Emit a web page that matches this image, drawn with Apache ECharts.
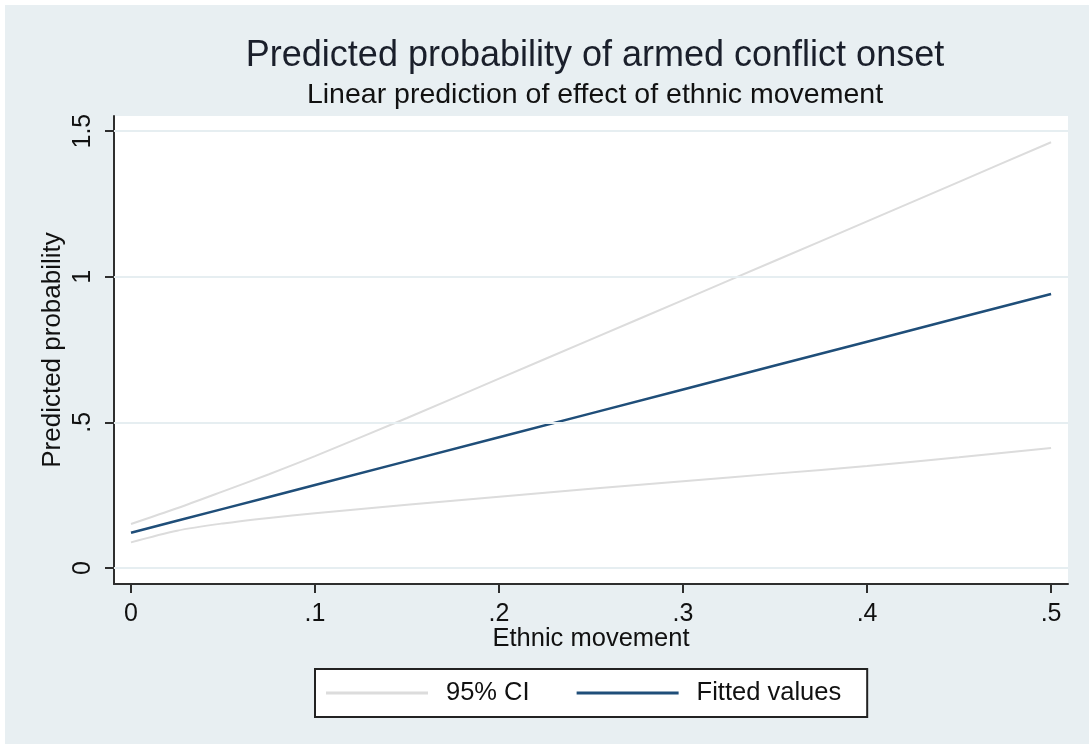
<!DOCTYPE html>
<html>
<head>
<meta charset="utf-8">
<script src="https://cdn.jsdelivr.net/npm/echarts@6/dist/echarts.min.js"></script>
<style>
  html, body { margin: 0; padding: 0; background: #ffffff; }
  #bg { position: absolute; left: 5px; top: 5px; width: 1084px; height: 739px; background: #e8eff2; }
  #chart { position: absolute; left: 0; top: 0; width: 1089px; height: 744px; }
</style>
</head>
<body>
<div id="bg"></div>
<div id="chart"></div>
<script>
// values
const xValues = [0, 0.025, 0.05, 0.075, 0.1, 0.15, 0.2, 0.25, 0.3, 0.35, 0.4, 0.45, 0.5];
const ciUpper = [0.151, 0.205, 0.263, 0.322, 0.384, 0.515, 0.650, 0.785, 0.920, 1.055, 1.190, 1.326, 1.462];
const ciLower = [0.088, 0.128, 0.153, 0.172, 0.188, 0.217, 0.245, 0.272, 0.298, 0.324, 0.350, 0.380, 0.412];
const fitted = [0.121, 0.162, 0.203, 0.244, 0.285, 0.367, 0.449, 0.531, 0.613, 0.695, 0.777, 0.859, 0.941];
const xTicks = [0, 0.1, 0.2, 0.3, 0.4, 0.5];
const yTicks = [0, 0.5, 1, 1.5];

const FONT = 'Liberation Sans, Arial, sans-serif';
const CI_COLOR = '#dcdcdc';
const FIT_COLOR = '#1f4e79';
const AXIS_COLOR = '#2e2e2e';

function pairs(ys) {
  return xValues.map((x, i) => [x, ys[i]]);
}

function tickText(v) {
  return String(v).replace(/^0\./, '.');
}

const chart = echarts.init(document.getElementById('chart'));
chart.setOption({
  animation: false,
  textStyle: { fontFamily: FONT },
  title: {
    text: 'Predicted probability of armed conflict onset',
    subtext: 'Linear prediction of effect of ethnic movement',
    left: 590,
    top: 33,
    textAlign: 'center',
    itemGap: 7,
    textStyle: { fontFamily: FONT, fontSize: 36, fontWeight: 'normal', color: '#1a1f2b' },
    subtextStyle: { fontFamily: FONT, fontSize: 28.5, color: '#111111' }
  },
  grid: {
    left: 114,
    right: 21,
    top: 116,
    bottom: 160,
    show: true,
    backgroundColor: '#ffffff',
    borderWidth: 0
  },
  legend: {
    bottom: 27,
    left: 315,
    data: ['95% CI', 'Fitted values'],
    icon: 'rect',
    itemWidth: 102,
    itemHeight: 3,
    itemGap: 47,
    padding: [11, 26, 11, 11],
    backgroundColor: '#ffffff',
    borderColor: '#222222',
    borderWidth: 2,
    textStyle: { fontFamily: FONT, fontSize: 25.5, color: '#111111', padding: [0, 0, 0, 13] }
  },
  xAxis: {
    type: 'value',
    min: -0.00924,
    max: 0.5092,
    name: 'Ethnic movement',
    nameLocation: 'middle',
    nameGap: 42,
    nameMoveOverlap: false,
    nameTextStyle: { fontFamily: FONT, fontSize: 25.5, color: '#111111' },
    axisLine: { show: true, onZero: false, lineStyle: { color: AXIS_COLOR, width: 2 } },
    axisTick: { show: true, length: 9, customValues: xTicks, lineStyle: { color: AXIS_COLOR, width: 2 } },
    axisLabel: {
      customValues: xTicks,
      margin: 18,
      fontSize: 25,
      color: '#111111',
      formatter: tickText
    },
    splitLine: { show: false }
  },
  yAxis: {
    type: 'value',
    min: -0.055,
    max: 1.552,
    name: 'Predicted probability',
    nameLocation: 'middle',
    nameGap: 48,
    nameMoveOverlap: false,
    nameRotate: 90,
    nameTextStyle: { fontFamily: FONT, fontSize: 26, color: '#111111' },
    axisLine: { show: true, onZero: false, lineStyle: { color: AXIS_COLOR, width: 2 } },
    axisTick: { show: true, length: 9, customValues: yTicks, lineStyle: { color: AXIS_COLOR, width: 2 } },
    axisLabel: {
      customValues: yTicks,
      rotate: 90,
      margin: 18,
      fontSize: 25,
      color: '#111111',
      formatter: tickText
    },
    splitLine: { show: false }
  },
  series: [
    {
      name: '95% CI',
      type: 'line',
      data: pairs(ciUpper),
      showSymbol: false,
      smooth: 0.3,
      color: CI_COLOR,
      lineStyle: { color: CI_COLOR, width: 2 },
      z: 2,
      markLine: {
        silent: true,
        symbol: 'none',
        label: { show: false },
        lineStyle: { color: '#e6eef1', width: 2, type: 'solid' },
        data: yTicks.map(v => ({ yAxis: v }))
      }
    },
    {
      name: '95% CI',
      type: 'line',
      data: pairs(ciLower),
      showSymbol: false,
      smooth: 0.3,
      color: CI_COLOR,
      lineStyle: { color: CI_COLOR, width: 2 },
      z: 2
    },
    {
      name: 'Fitted values',
      type: 'line',
      data: pairs(fitted),
      showSymbol: false,
      color: FIT_COLOR,
      lineStyle: { color: FIT_COLOR, width: 2.5 },
      z: 3
    }
  ]
});
</script>
</body>
</html>
